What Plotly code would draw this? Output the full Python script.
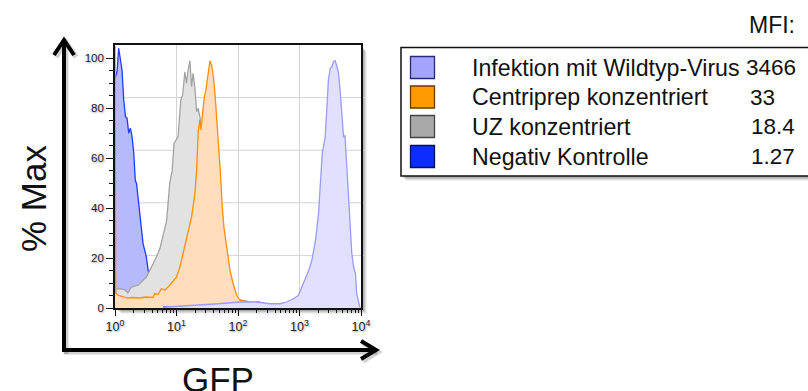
import numpy as np
import plotly.graph_objects as go

# ---- histogram data: log10(GFP) positions and % of max ----
neg_log = [0.0, 0.033, 0.06, 0.088, 0.114, 0.142, 0.17, 0.196, 0.223, 0.25, 0.277, 0.305,
           0.33, 0.35, 0.375, 0.40, 0.43, 0.456, 0.485, 0.51, 0.54, 0.58, 0.62, 0.66, 0.70,
           0.78, 1.2, 1.6, 2.0, 2.3, 2.4]
neg_pct = [92, 94.6, 104, 99.3, 95.3, 83.3, 76.6, 76, 70, 72, 68.6, 62,
           51, 49.9, 44, 37.8, 31, 25.8, 23, 20.4, 15, 9, 4.5, 1.8, 0.8,
           0.4, 0.4, 0.5, 0.4, 0.4, 0]

uz_log = [0.03, 0.05, 0.158, 0.21, 0.267, 0.375, 0.51, 0.566, 0.674, 0.73, 0.78, 0.84,
          0.89, 0.93, 0.96, 1.027, 1.07, 1.10, 1.136, 1.163, 1.19, 1.218, 1.245, 1.27,
          1.30, 1.327, 1.353, 1.38, 1.43, 1.50, 1.58, 1.66, 1.74, 1.82, 1.90, 1.98,
          2.10, 2.20, 2.30, 2.40, 2.50]
uz_pct = [7.5, 7.8, 7.4, 6, 8.4, 9.1, 12.4, 15, 20.4, 23.8, 28.5, 35,
          50, 55, 66, 68.6, 83.3, 85.3, 94.6, 90, 95.3, 99, 88.6, 94,
          88, 78.6, 80, 76.6, 68, 55, 38, 22, 12, 7, 4.5, 3.5,
          3, 2.5, 1.5, 0.5, 0]

cp_log = [0.0, 0.012, 0.05, 0.13, 0.21, 0.29, 0.40, 0.51, 0.62, 0.647, 0.70, 0.756,
          0.81, 0.89, 1.0, 1.055, 1.136, 1.19, 1.245, 1.30, 1.327, 1.353, 1.38, 1.397,
          1.425, 1.45, 1.478, 1.506, 1.544, 1.57, 1.60, 1.625, 1.653, 1.68, 1.70, 1.72,
          1.74, 1.77, 1.816, 1.87, 1.92, 1.98, 2.03, 2.14, 2.25, 2.33, 2.38, 2.41,
          2.5, 3.0, 3.5, 4.0]
cp_pct = [105, 6, 5.1, 4.7, 4, 4.2, 4, 4.4, 4.2, 5.8, 5.5, 7.8,
          7.1, 9.1, 12.4, 16.4, 24.5, 29.8, 36.5, 45.9, 55.2, 70.6, 75.3, 71.3,
          78.6, 84, 87.3, 92.6, 99, 97.3, 92.6, 86, 76.6, 68.6, 60, 52,
          42, 32.5, 24.5, 15.1, 9.8, 5.1, 3.1, 2.4, 2.2, 2.6, 2, 0.3,
          0, 0, 0, 0]

wt_log = [0.78, 1.0, 1.38, 1.68, 2.03, 2.30, 2.52, 2.68, 2.79, 2.90, 2.98, 3.04,
          3.09, 3.15, 3.20, 3.26, 3.31, 3.34, 3.37, 3.40, 3.418, 3.446, 3.47, 3.50,
          3.527, 3.553, 3.58, 3.61, 3.635, 3.66, 3.69, 3.716, 3.74, 3.77, 3.80, 3.83,
          3.85, 3.88, 3.91, 3.93, 3.98]
wt_pct = [0.3, 0.6, 1, 1.7, 2.4, 2.4, 1.7, 1.7, 2.4, 3.7, 5, 8.4,
          11, 15, 19, 27, 38, 50, 62, 66, 68.6, 80.6, 91.3, 96,
          96.6, 98.6, 99, 96.6, 94, 87.3, 76.6, 68.6, 69, 55, 43, 30,
          22, 16.4, 13.8, 5.7, 0.4]

# ---- legend content ----
legend_labels = ["Infektion mit Wildtyp-Virus", "Centriprep konzentriert",
                 "UZ konzentriert", "Negativ Kontrolle"]
legend_mfi = ["3466", "33", "18.4", "1.27"]
swatch_fill = ["#a4a4ff", "#ff9a00", "#a9a9a9", "#0d2cff"]
swatch_edge = ["#2a2a7a", "#6b3a00", "#444444", "#001060"]

x_tick_vals = [1, 10, 100, 1000, 10000]
x_tick_text = ["10<sup>0</sup>", "10<sup>1</sup>", "10<sup>2</sup>",
               "10<sup>3</sup>", "10<sup>4</sup>"]
y_tick_vals = [0, 20, 40, 60, 80, 100]

FONT = "Liberation Sans, Arial, Helvetica, sans-serif"
W, H = 808, 391
ML, MR, MT, MB = 115, 447, 45, 83
PW, PH = W - ML - MR, H - MT - MB


def px(x):
    return (x - ML) / PW


def py(y):
    return (H - MB - y) / PH


fig = go.Figure()

series = [
    (neg_log, neg_pct, "#1f3cff", "#b7b9ff"),
    (uz_log, uz_pct, "#a3a3a3", "#e2e2e2"),
    (cp_log, cp_pct, "#ff8f00", "#ffddbd"),
]
for lg, pc, lc, fc in series:
    fig.add_trace(go.Scatter(
        x=10 ** np.array(lg), y=pc, mode="lines",
        line=dict(color=lc, width=1.3), fill="tozeroy", fillcolor=fc,
        showlegend=False, hoverinfo="skip"))

# low tail of the negative control, drawn over the other fills
tail = neg_log.index(0.78)
fig.add_trace(go.Scatter(
    x=10 ** np.array(neg_log[tail:]), y=neg_pct[tail:], mode="lines",
    line=dict(color="#1f3cff", width=1.3), showlegend=False, hoverinfo="skip"))

fig.add_trace(go.Scatter(
    x=10 ** np.array(wt_log), y=wt_pct, mode="lines",
    line=dict(color="#9a9aff", width=1.3), fill="tozeroy", fillcolor="#e1e1ff",
    showlegend=False, hoverinfo="skip"))

shapes = []
# drop shadow behind the plot frame
for k, a in [(6, 0.06), (5, 0.08), (4, 0.10), (3, 0.12), (2, 0.14)]:
    shapes.append(dict(type="rect", xref="paper", yref="paper", layer="below",
                       x0=px(ML + k), x1=px(ML + PW + k), y0=py(MT + PH + k), y1=py(MT + k),
                       fillcolor=f"rgba(0,0,0,{a})", line=dict(width=0)))
shapes.append(dict(type="rect", xref="paper", yref="paper", layer="below",
                   x0=0, x1=1, y0=0, y1=1, fillcolor="white", line=dict(width=0)))
# horizontal grid
for f in [0.2, 0.4, 0.6, 0.8]:
    shapes.append(dict(type="line", xref="x domain", yref="y domain", layer="below",
                       x0=0, x1=1.018, y0=f, y1=f, line=dict(color="#d4d4d4", width=1)))


def arrow_paths(color, width, dx=0, dy=0):
    out = []
    vx = 64 + dx
    out.append(f"M {px(vx)},{py(352 + dy)} L {px(vx)},{py(41 + dy)}")
    out.append(f"M {px(54 + dx)},{py(55 + dy)} L {px(vx)},{py(40 + dy)} L {px(74 + dx)},{py(55 + dy)}")
    hy = 350 + dy
    out.append(f"M {px(62 + dx)},{py(hy)} L {px(375 + dx)},{py(hy)}")
    out.append(f"M {px(361 + dx)},{py(hy - 9)} L {px(376 + dx)},{py(hy)} L {px(361 + dx)},{py(hy + 9)}")
    return [dict(type="path", xref="paper", yref="paper", path=p, layer="above",
                 line=dict(color=color, width=width)) for p in out]


shapes += arrow_paths("rgba(0,0,0,0.18)", 5, 2, 2)
shapes += arrow_paths("black", 4)

# legend box with shadow
for k, a in [(5, 0.06), (4, 0.08), (3, 0.10), (2, 0.12)]:
    shapes.append(dict(type="rect", xref="paper", yref="paper", layer="above",
                       x0=px(401 + k), x1=px(815), y0=py(176 + k), y1=py(48 + k),
                       fillcolor=f"rgba(0,0,0,{a})", line=dict(width=0)))
shapes.append(dict(type="rect", xref="paper", yref="paper", layer="above",
                   x0=px(401), x1=px(813), y0=py(176), y1=py(47.5),
                   fillcolor="white", line=dict(color="#111111", width=1.5)))

annotations = []
row_y = [67.5, 97, 126.5, 156.5]
mfi_x = [744, 748, 749, 749]
for i, lab in enumerate(legend_labels):
    yc = row_y[i]
    shapes.append(dict(type="rect", xref="paper", yref="paper", layer="above",
                       x0=px(410.5), x1=px(434.5), y0=py(yc + 11), y1=py(yc - 11),
                       fillcolor=swatch_fill[i], line=dict(color=swatch_edge[i], width=1.3)))
    annotations.append(dict(x=px(470), y=py(yc), xref="paper", yref="paper",
                            text=lab, showarrow=False, xanchor="left", yanchor="middle",
                            font=dict(family=FONT, size=23.2, color="#111")))
    annotations.append(dict(x=px(mfi_x[i]), y=py(yc), xref="paper", yref="paper",
                            text=legend_mfi[i], showarrow=False, xanchor="left", yanchor="middle",
                            font=dict(family=FONT, size=22.5, color="#111")))

annotations.append(dict(x=px(747), y=py(25), xref="paper", yref="paper", text="MFI:",
                        showarrow=False, xanchor="left", yanchor="middle",
                        font=dict(family=FONT, size=23, color="#111")))
annotations.append(dict(x=px(33), y=py(199), xref="paper", yref="paper", text="% Max",
                        showarrow=False, textangle=-90, xanchor="center", yanchor="middle",
                        font=dict(family=FONT, size=35, color="#111")))
annotations.append(dict(x=px(218), y=py(379), xref="paper", yref="paper", text="GFP",
                        showarrow=False, xanchor="center", yanchor="middle",
                        font=dict(family=FONT, size=35, color="#111")))

tick_font = dict(family=FONT, size=11.5, color="#222",
                 shadow="1px 1px 2px rgba(0,0,0,0.35)")

fig.update_layout(
    width=W, height=H,
    margin=dict(l=ML, r=MR, t=MT, b=MB, pad=0),
    paper_bgcolor="white", plot_bgcolor="white",
    shapes=shapes, annotations=annotations,
    xaxis=dict(type="log", range=[0, 4], tickmode="array", tickvals=x_tick_vals,
               ticktext=x_tick_text, ticks="outside", ticklen=6, tickwidth=1.2,
               tickcolor="#111", showline=True, linecolor="#111", linewidth=1.6,
               mirror=True, showgrid=True, gridcolor="#d4d4d4", gridwidth=1,
               zeroline=False, tickfont=dict(tick_font, size=12.5),
               minor=dict(tickmode="array",
                          tickvals=[m * 10 ** d for d in range(4) for m in range(2, 10)],
                          ticks="outside", ticklen=3.5, tickwidth=1, tickcolor="#111",
                          showgrid=False)),
    yaxis=dict(range=[0, 105.3], tickmode="array", tickvals=y_tick_vals,
               ticks="outside", ticklen=7, tickwidth=1.2, tickcolor="#111",
               showline=True, linecolor="#111", linewidth=1.6, mirror=True,
               showgrid=False, zeroline=False, tickfont=tick_font,
               minor=dict(tickmode="array",
                          tickvals=[v for v in range(5, 105, 5) if v % 20],
                          ticks="outside", ticklen=4, tickwidth=1, tickcolor="#111",
                          showgrid=False)),
    showlegend=False,
)

fig.write_html("out.html")
